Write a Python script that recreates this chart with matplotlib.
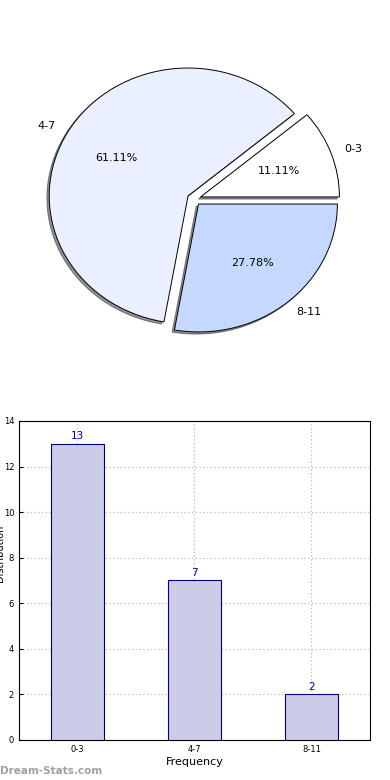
import matplotlib
matplotlib.use("Agg")
import matplotlib.pyplot as plt

# data
pie_labels = ["0-3", "4-7", "8-11"]
pie_values = [2, 11, 5]
pie_colors = ["#FFFFFF", "#EAF0FF", "#C5D9FF"]

bar_labels = ["0-3", "4-7", "8-11"]
bar_values = [13, 7, 2]

fig = plt.figure(figsize=(3.9, 7.8), dpi=100)

# pie chart (top)
ax1 = fig.add_axes([0.0526, 0.5397, 0.89, 0.41])
wedges, texts, autotexts = ax1.pie(
    pie_values, labels=pie_labels, colors=pie_colors, explode=[0.05] * 3,
    autopct="%.2f%%", shadow={"ox": -0.012, "oy": -0.012, "shade": 0.85},
    startangle=0, counterclock=True,
    labeldistance=1.1, pctdistance=0.6,
    wedgeprops=dict(edgecolor="black", linewidth=0.7),
    textprops=dict(fontsize=8))
ax1.set_aspect("auto")
ax1.set_xlim(-1.25, 1.25)
ax1.set_ylim(-1.25, 1.25)

# bar chart (bottom)
ax2 = fig.add_axes([0.0487, 0.0513, 0.9, 0.409])
x = range(len(bar_values))
bars = ax2.bar(x, bar_values, width=0.45, color="#CCCCE6", edgecolor="#000080",
               linewidth=0.8, zorder=3)
for xi, v in zip(x, bar_values):
    ax2.text(xi, v + 0.1, str(v), ha="center", va="bottom", fontsize=7.5,
             color="#0000AA", zorder=4)
ax2.set_xlim(-0.5, 2.5)
ax2.set_ylim(0, 14)
ax2.set_yticks(range(0, 15, 2))
ax2.set_xticks(list(x))
ax2.set_xticklabels(bar_labels)
ax2.tick_params(labelsize=6, length=3, direction="in")
ax2.grid(True, linestyle=(0, (1, 2)), color="#BBBBBB", linewidth=0.9, zorder=0)
ax2.set_xlabel("Frequency", fontsize=8, labelpad=2)
fig.text(-0.012, 0.29, "Distribution", rotation=90, fontsize=7,
         ha="left", va="center")

fig.text(0.0, 0.005, "Dream-Stats.com", fontsize=7.5, color="#A0A0A0",
         fontweight="bold", ha="left", va="bottom")

fig.savefig("out.png", dpi=100)
